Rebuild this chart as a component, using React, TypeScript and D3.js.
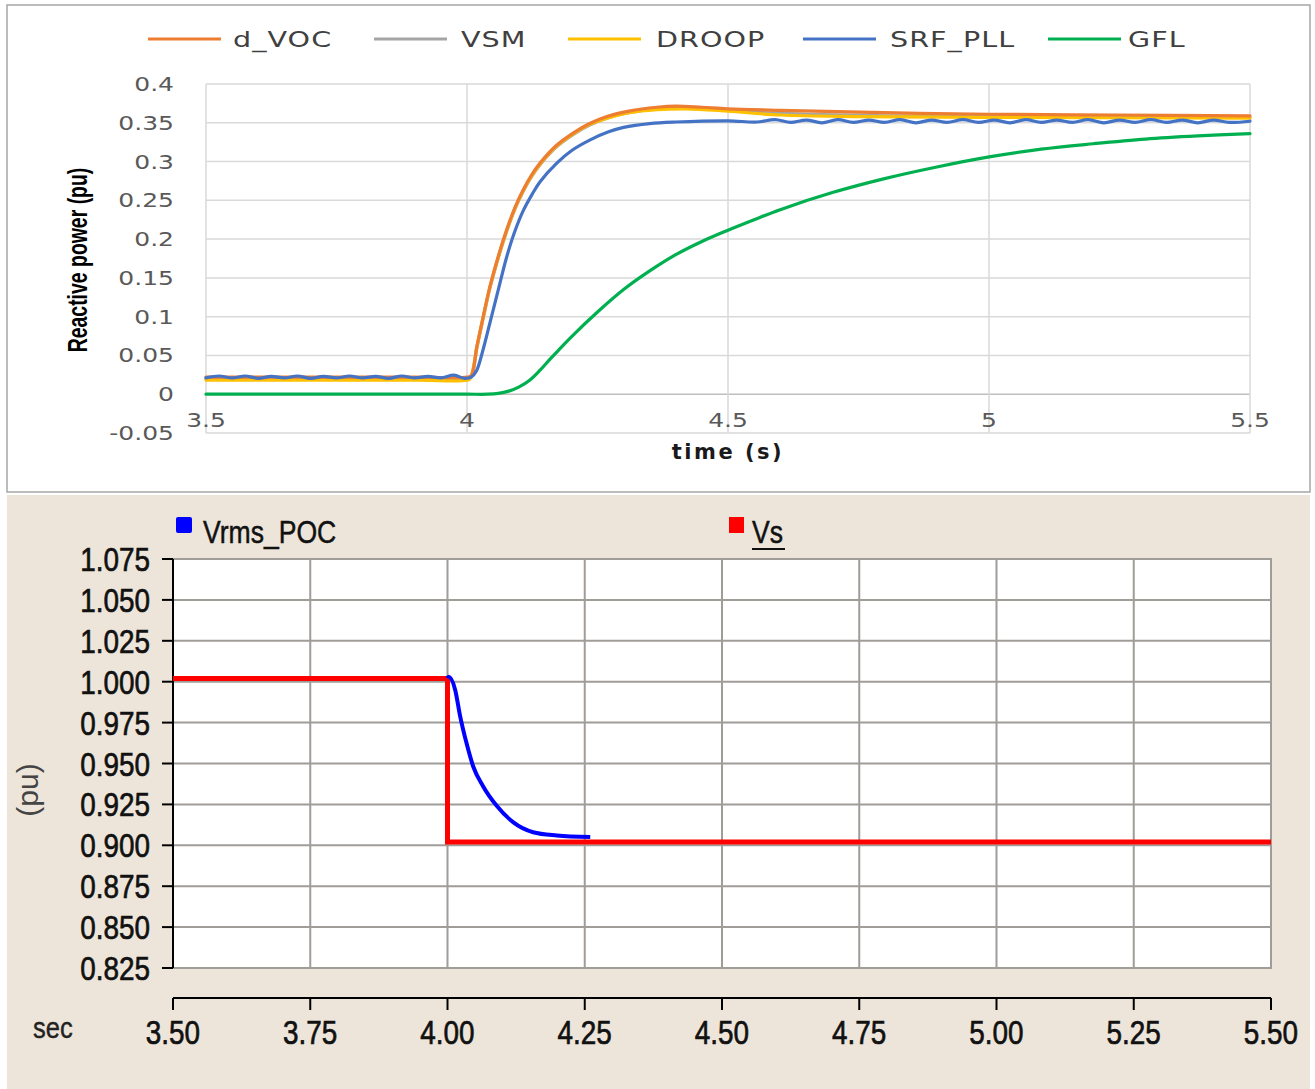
import React from "react";
import * as d3 from "d3";

// ---------- Top chart data (time s, reactive power pu) ----------
const topSeriesNames = ["d_VOC", "VSM", "DROOP", "SRF_PLL", "GFL"];
const topColors = ["#ED7D31", "#A5A5A5", "#FFC000", "#4472C4", "#00B050"];
const topYTicks = [-0.05, 0, 0.05, 0.1, 0.15, 0.2, 0.25, 0.3, 0.35, 0.4];
const topYLabels = ["-0.05", "0", "0.05", "0.1", "0.15", "0.2", "0.25", "0.3", "0.35", "0.4"];
const topXTicks = [3.5, 4, 4.5, 5, 5.5];
const topXLabels = ["3.5", "4", "4.5", "5", "5.5"];

const dVOC: [number, number][] = [
  [3.5, 0.022], [3.9, 0.022], [4.0, 0.022], [4.008, 0.024], [4.019, 0.062], [4.031, 0.1], [4.044, 0.139],
  [4.06, 0.178], [4.076, 0.212], [4.092, 0.241], [4.108, 0.264], [4.124, 0.283], [4.14, 0.298],
  [4.17, 0.32], [4.204, 0.337], [4.235, 0.349], [4.268, 0.358], [4.31, 0.365], [4.364, 0.370],
  [4.4, 0.3715], [4.45, 0.370], [4.5, 0.368], [4.6, 0.366], [4.8, 0.363],
  [5.0, 0.361], [5.25, 0.36], [5.5, 0.359],
];
const VSM: [number, number][] = [
  [3.5, 0.02], [3.9, 0.02], [4.0, 0.02], [4.008, 0.022], [4.019, 0.06], [4.031, 0.098], [4.044, 0.137],
  [4.06, 0.176], [4.076, 0.21], [4.092, 0.239], [4.108, 0.262], [4.124, 0.281], [4.14, 0.296],
  [4.17, 0.318], [4.204, 0.335], [4.235, 0.347], [4.268, 0.356], [4.31, 0.363], [4.364, 0.368],
  [4.42, 0.369], [4.5, 0.366], [4.6, 0.362], [4.8, 0.359], [5.0, 0.358], [5.5, 0.357],
];
const DROOP: [number, number][] = [
  [3.5, 0.018], [3.9, 0.018], [4.0, 0.018], [4.006, 0.02], [4.019, 0.061], [4.031, 0.099], [4.044, 0.138],
  [4.06, 0.177], [4.076, 0.211], [4.092, 0.24], [4.108, 0.263], [4.124, 0.282], [4.14, 0.297],
  [4.17, 0.319], [4.204, 0.336], [4.235, 0.348], [4.268, 0.356], [4.31, 0.363], [4.364, 0.367],
  [4.42, 0.368], [4.5, 0.365], [4.6, 0.36], [4.75, 0.358], [5.0, 0.357], [5.5, 0.356],
];
const SRF_PLL: [number, number][] = [
  [3.5, 0.021], [3.525, 0.0235], [3.55, 0.021], [3.575, 0.0235], [3.6, 0.0205], [3.625, 0.023],
  [3.65, 0.021], [3.675, 0.0235], [3.7, 0.0205], [3.725, 0.023], [3.75, 0.021], [3.775, 0.0235],
  [3.8, 0.021], [3.825, 0.023], [3.85, 0.0205], [3.875, 0.0235], [3.9, 0.021], [3.925, 0.023],
  [3.95, 0.021], [3.975, 0.0245], [3.995, 0.0205], [4.008, 0.022], [4.018, 0.03], [4.031, 0.058],
  [4.045, 0.095], [4.06, 0.135], [4.076, 0.177], [4.09, 0.207], [4.108, 0.237], [4.125, 0.258],
  [4.14, 0.274], [4.172, 0.298], [4.2, 0.314], [4.236, 0.328], [4.27, 0.338], [4.3, 0.344],
  [4.35, 0.349], [4.4, 0.351], [4.5, 0.3525], [4.555, 0.351],
  [4.59, 0.354], [4.62, 0.3505], [4.65, 0.3535], [4.68, 0.35], [4.71, 0.354], [4.74, 0.3505],
  [4.77, 0.3535], [4.8, 0.3505], [4.83, 0.354], [4.86, 0.35], [4.89, 0.3535], [4.92, 0.3505],
  [4.95, 0.354], [4.98, 0.3505], [5.01, 0.3535], [5.04, 0.35], [5.07, 0.354], [5.1, 0.3505],
  [5.13, 0.3535], [5.16, 0.3505], [5.19, 0.354], [5.22, 0.35], [5.25, 0.3535], [5.28, 0.3505],
  [5.31, 0.354], [5.34, 0.3505], [5.37, 0.3535], [5.4, 0.35], [5.43, 0.3535], [5.46, 0.3505],
  [5.5, 0.352],
];
const GFL: [number, number][] = [
  [3.5, 0.0], [3.9, 0.0], [4.0, 0.0], [4.04, 0.0], [4.06, 0.001], [4.08, 0.004], [4.1, 0.0095],
  [4.12, 0.018], [4.14, 0.031], [4.16, 0.046], [4.18, 0.06], [4.2, 0.074], [4.25, 0.106],
  [4.3, 0.135], [4.35, 0.159], [4.4, 0.18], [4.45, 0.197], [4.5, 0.2115], [4.55, 0.225],
  [4.6, 0.238], [4.7, 0.26], [4.8, 0.278], [4.9, 0.293], [5.0, 0.306], [5.1, 0.316],
  [5.2, 0.323], [5.3, 0.329], [5.4, 0.333], [5.5, 0.336],
];
const topData = [dVOC, VSM, DROOP, SRF_PLL, GFL];
const topDrawOrder = [4, 1, 2, 0, 3];

// ---------- Bottom chart data (time s, voltage pu) ----------
const botYTicks = [0.825, 0.85, 0.875, 0.9, 0.925, 0.95, 0.975, 1.0, 1.025, 1.05, 1.075];
const botYLabels = ["0.825", "0.850", "0.875", "0.900", "0.925", "0.950", "0.975", "1.000", "1.025", "1.050", "1.075"];
const botXTicks = [3.5, 3.75, 4.0, 4.25, 4.5, 4.75, 5.0, 5.25, 5.5];
const botXLabels = ["3.50", "3.75", "4.00", "4.25", "4.50", "4.75", "5.00", "5.25", "5.50"];

const Vs: [number, number][] = [
  [3.5, 1.002], [4.0, 1.002], [4.0, 0.902], [5.5, 0.902],
];
const VrmsPOC: [number, number][] = [
  [4.0, 1.002], [4.002, 1.003], [4.014, 0.995], [4.023, 0.979], [4.035, 0.962], [4.047, 0.948],
  [4.065, 0.936], [4.09, 0.924], [4.12, 0.914], [4.156, 0.908], [4.199, 0.906], [4.26, 0.905],
];

// ---------- Layout ----------
const W = 1315;
const H = 1089;
const topLegendLineX = [148, 374, 568, 803, 1048];
const topLegendTextX = [233, 461, 656, 890, 1128];

type TProps = {
  x: number; y: number; sx?: number; size: number; anchor?: string; fill?: string;
  family?: string; weight?: string | number; rotate?: number; children: React.ReactNode;
  spacing?: number; stroke?: string; sw?: number;
};
function T({ x, y, sx = 1, size, anchor = "start", fill = "#000", family = "DejaVu Sans", weight = "normal", rotate = 0, children, spacing = 0, stroke = "none", sw = 0 }: TProps) {
  return (
    <text
      transform={`translate(${x},${y}) rotate(${rotate}) scale(${sx},1)`}
      fontSize={size}
      textAnchor={anchor}
      fill={fill}
      stroke={stroke}
      strokeWidth={sw}
      fontFamily={family}
      fontWeight={weight}
      letterSpacing={spacing}
    >
      {children}
    </text>
  );
}

export default function App() {
  // Top scales
  const xT = d3.scaleLinear().domain([3.5, 5.5]).range([206, 1250]);
  const yT = d3.scaleLinear().domain([-0.05, 0.4]).range([433, 84]);
  const lineT = d3
    .line<[number, number]>()
    .x((d) => xT(d[0]))
    .y((d) => yT(d[1]))
    .curve(d3.curveCatmullRom.alpha(0.5));

  // Bottom scales
  const xB = d3.scaleLinear().domain([3.5, 5.5]).range([173, 1271]);
  const yB = d3.scaleLinear().domain([0.825, 1.075]).range([968, 559]);
  const lineB = d3
    .line<[number, number]>()
    .x((d) => xB(d[0]))
    .y((d) => yB(d[1]));
  const lineBsmooth = d3
    .line<[number, number]>()
    .x((d) => xB(d[0]))
    .y((d) => yB(d[1]))
    .curve(d3.curveMonotoneX);

  const botLeft = xB(3.5);
  const botRight = xB(5.5);
  const botTop = yB(1.075);
  const botBottom = yB(0.825);
  const xAxisY = 998;

  return (
    <div style={{ position: "absolute", left: 0, top: 0 }}>
      <svg width={W} height={H} viewBox={`0 0 ${W} ${H}`} style={{ display: "block" }}>
        <rect x={0} y={0} width={W} height={H} fill="#ffffff" />

        {/* ================= TOP PANEL ================= */}
        <rect x={7} y={5} width={1303} height={487} fill="#ffffff" stroke="#a6a6a6" strokeWidth={1.5} />

        {/* gridlines */}
        {topYTicks.map((v) => (
          <line key={"gy" + v} x1={xT(3.5)} x2={xT(5.5)} y1={yT(v)} y2={yT(v)}
            stroke={v === 0 ? "#bfbfbf" : "#d9d9d9"} strokeWidth={1.5} />
        ))}
        {topXTicks.map((v) => (
          <line key={"gx" + v} x1={xT(v)} x2={xT(v)} y1={yT(0.4)} y2={yT(-0.05)}
            stroke="#d9d9d9" strokeWidth={1.5} />
        ))}

        {/* y tick labels */}
        {topYTicks.map((v, i) => (
          <T key={"yl" + v} x={174} y={yT(v) + 7} sx={1.25} size={20} anchor="end" fill="#595959">
            {topYLabels[i]}
          </T>
        ))}
        {/* x tick labels */}
        {topXTicks.map((v, i) => (
          <T key={"xl" + v} x={xT(v)} y={427} sx={1.25} size={20} anchor="middle" fill="#595959">
            {topXLabels[i]}
          </T>
        ))}

        {/* axis titles */}
        <T x={xT(4.5)} y={459} size={21} anchor="middle" weight="bold" fill="#1a1a1a" spacing={2.5}>
          time (s)
        </T>
        <T x={87} y={260} size={27} anchor="middle" weight="bold" family="Liberation Sans" rotate={-90} sx={0.72} fill="#000">
          Reactive power (pu)
        </T>

        {/* series */}
        {topDrawOrder.map((i) => (
          <path key={"s" + i} d={lineT(topData[i]) || ""} fill="none" stroke={topColors[i]}
            strokeWidth={3.2} strokeLinejoin="round" strokeLinecap="round" />
        ))}

        {/* legend */}
        {topSeriesNames.map((n, i) => (
          <g key={"lg" + n}>
            <line x1={topLegendLineX[i]} x2={topLegendLineX[i] + 73} y1={39} y2={39}
              stroke={topColors[i]} strokeWidth={3.2} />
            <T x={topLegendTextX[i]} y={47} size={22} sx={1.3} fill="#404040" spacing={0.8}>
              {n}
            </T>
          </g>
        ))}

        {/* ================= BOTTOM PANEL ================= */}
        <rect x={7} y={495} width={1303} height={594} fill="#EDE5DA" />
        <rect x={botLeft} y={botTop} width={botRight - botLeft} height={botBottom - botTop}
          fill="#ffffff" stroke="#a09c98" strokeWidth={2} />

        {botYTicks.map((v) => (
          <line key={"bgy" + v} x1={botLeft} x2={botRight} y1={yB(v)} y2={yB(v)}
            stroke="#a09c98" strokeWidth={2} />
        ))}
        {botXTicks.map((v) => (
          <line key={"bgx" + v} x1={xB(v)} x2={xB(v)} y1={botTop} y2={botBottom}
            stroke="#a09c98" strokeWidth={2} />
        ))}

        {/* left axis */}
        <line x1={botLeft} x2={botLeft} y1={botTop} y2={botBottom} stroke="#000" strokeWidth={2} />
        {botYTicks.map((v, i) => (
          <g key={"byt" + v}>
            <line x1={botLeft - 11} x2={botLeft} y1={yB(v)} y2={yB(v)} stroke="#000" strokeWidth={2} />
            <T x={150} y={yB(v) + 12} size={34} sx={0.82} anchor="end" family="Liberation Sans" fill="#111" stroke="#111" sw={0.7}>
              {botYLabels[i]}
            </T>
          </g>
        ))}

        {/* bottom axis */}
        <line x1={botLeft} x2={botRight} y1={xAxisY} y2={xAxisY} stroke="#000" strokeWidth={2} />
        {botXTicks.map((v, i) => (
          <g key={"bxt" + v}>
            <line x1={xB(v)} x2={xB(v)} y1={xAxisY} y2={xAxisY + 12} stroke="#000" strokeWidth={2} />
            <T x={xB(v)} y={1044} size={34} sx={0.82} anchor="middle" family="Liberation Sans" fill="#111" stroke="#111" sw={0.7}>
              {botXLabels[i]}
            </T>
          </g>
        ))}
        <T x={33} y={1038} size={30} sx={0.85} family="Liberation Sans" fill="#222" stroke="#222" sw={0.4}>sec</T>
        <T x={38} y={790} size={30} anchor="middle" family="Liberation Sans" rotate={-90} fill="#444">(pu)</T>

        {/* series */}
        <path d={lineB(Vs) || ""} fill="none" stroke="#ff0000" strokeWidth={5} strokeLinejoin="miter" />
        <path d={lineBsmooth(VrmsPOC) || ""} fill="none" stroke="#0000ff" strokeWidth={4} />

        {/* legend */}
        <rect x={176} y={517} width={16} height={16} rx={2} fill="#0000ff" />
        <T x={203} y={543} size={32} sx={0.83} family="Liberation Sans" fill="#111" stroke="#111" sw={0.5}>Vrms_POC</T>
        <rect x={729} y={517} width={15} height={16} fill="#ff0000" />
        <T x={752} y={543} size={32} sx={0.83} family="Liberation Sans" fill="#111" stroke="#111" sw={0.5}>Vs</T>
        <line x1={752} x2={785} y1={549} y2={549} stroke="#111" strokeWidth={2} />
      </svg>
    </div>
  );
}
